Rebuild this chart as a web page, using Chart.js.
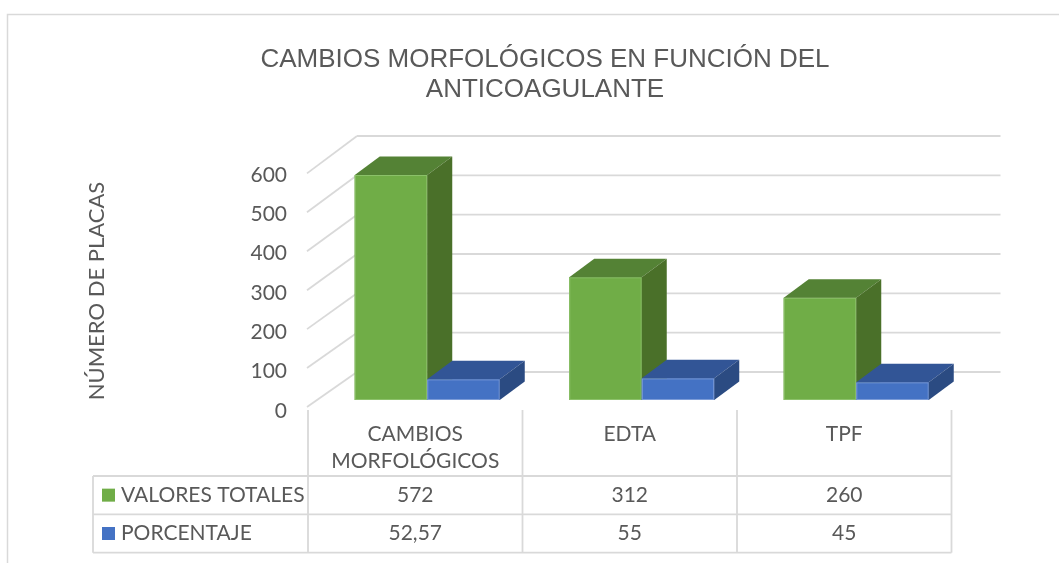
<!DOCTYPE html>
<html><head><meta charset="utf-8">
<script src="https://cdn.jsdelivr.net/npm/chart.js@4.4.0/dist/chart.umd.min.js"></script>
<style>html,body{margin:0;padding:0;background:#fff;} #wrap{position:relative;width:1059px;height:563px;}</style>
</head><body><div id="wrap"><canvas id="c"></canvas></div>
<script>
// ---- data ----
const titleLines = ['CAMBIOS MORFOLÓGICOS EN FUNCIÓN DEL', 'ANTICOAGULANTE'];
const categories = [['CAMBIOS', 'MORFOLÓGICOS'], ['EDTA'], ['TPF']];
const seriesNames = ['VALORES TOTALES', 'PORCENTAJE'];
const valoresTotales = [572, 312, 260];
const porcentaje = [52.57, 55, 45];
const yTicks = [0, 100, 200, 300, 400, 500, 600];
const yTitle = 'NÚMERO DE PLACAS';

// ---- styles ----
const TXT = '#595959', LINE = '#d9d9d9';
const FONT = 'Lato, "Open Sans", sans-serif';
const TFONT = '"Liberation Sans", Arial, sans-serif';
const DEPTH = {dx: 25, dy: 18.5};
const BACK = {dx: 37, dy: 28};
const FRONT = {dx: -12, dy: 7};
const faceColors = [
  {front: '#70AD47', top: '#548235', side: '#4A7029', edge: '#8cc16a'},
  {front: '#4472C4', top: '#325596', side: '#2B4B82', edge: '#7c9cd8'}
];

function poly(ctx, pts, fill) {
  ctx.beginPath();
  ctx.moveTo(pts[0][0], pts[0][1]);
  for (let k = 1; k < pts.length; k++) ctx.lineTo(pts[k][0], pts[k][1]);
  ctx.closePath();
  ctx.fillStyle = fill;
  ctx.fill();
}
function line(ctx, x1, y1, x2, y2) {
  ctx.beginPath(); ctx.moveTo(x1, y1); ctx.lineTo(x2, y2); ctx.stroke();
}

const excel3d = {
  id: 'excel3d',
  beforeDraw(chart) {
    const ctx = chart.ctx;
    ctx.save();
    ctx.fillStyle = '#fff';
    ctx.fillRect(0, 0, chart.width, chart.height);
    // frame
    ctx.strokeStyle = LINE; ctx.lineWidth = 1.5;
    ctx.strokeRect(7.5, 14.5, chart.width + 20, chart.height + 20);
    // title
    ctx.fillStyle = TXT;
    ctx.font = '26px ' + TFONT;
    ctx.textAlign = 'center'; ctx.textBaseline = 'alphabetic';
    ctx.fillText(titleLines[0], 545, 67);
    ctx.fillText(titleLines[1], 545, 97);
    ctx.restore();
  },
  beforeDatasetsDraw(chart) {
    const ctx = chart.ctx, ys = chart.scales.y, a = chart.chartArea;
    ctx.save();
    ctx.strokeStyle = LINE; ctx.lineWidth = 1.8;
    ys.ticks.forEach(t => {
      const yb = ys.getPixelForValue(t.value);
      const yBack = yb - BACK.dy;
      const yFront = (yb - a.bottom) * 0.99 + a.bottom + FRONT.dy;
      line(ctx, a.left + BACK.dx, yBack, a.right + BACK.dx, yBack);
      line(ctx, a.left + FRONT.dx - 1, yFront, a.left + BACK.dx, yBack);
    });
    ctx.restore();
  },
  afterDatasetsDraw(chart) {
    const ctx = chart.ctx;
    const metas = chart.data.datasets.map((d, i) => chart.getDatasetMeta(i));
    ctx.save();
    for (let i = 0; i < chart.data.labels.length; i++) {
      metas.forEach((meta, d) => {
        const el = meta.data[i];
        const p = el.getProps(['x', 'y', 'base', 'width'], true);
        const c = faceColors[d];
        const l = p.x - p.width / 2, r = p.x + p.width / 2;
        // front
        ctx.fillStyle = c.front;
        ctx.fillRect(l, p.y, p.width, p.base - p.y);
        ctx.strokeStyle = c.edge; ctx.lineWidth = 1;
        ctx.strokeRect(l + 0.5, p.y + 0.5, p.width - 1, p.base - p.y - 1);
        // top
        poly(ctx, [[l, p.y], [l + DEPTH.dx, p.y - DEPTH.dy], [r + DEPTH.dx, p.y - DEPTH.dy], [r, p.y]], c.top);
        // side
        poly(ctx, [[r, p.y], [r + DEPTH.dx, p.y - DEPTH.dy], [r + DEPTH.dx, p.base - DEPTH.dy], [r, p.base]], c.side);
      });
    }
    ctx.restore();
  },
  afterDraw(chart) {
    const ctx = chart.ctx, xs = chart.scales.x, a = chart.chartArea;
    const n = chart.data.labels.length;
    const band = (a.right - a.left) / n;
    const x0 = a.left + FRONT.dx;
    const tableLeft = 93, headTop = 410, r1 = 476, r2 = 514.3, r3 = 552.7;
    ctx.save();
    ctx.strokeStyle = LINE; ctx.lineWidth = 1.8;
    for (let k = 0; k <= n; k++) {
      const xv = x0 + k * band;
      line(ctx, xv, headTop, xv, r3);
    }
    line(ctx, tableLeft, r1, tableLeft, r3);
    [r1, r2, r3].forEach(yv => line(ctx, tableLeft, yv, x0 + n * band, yv));

    ctx.fillStyle = TXT;
    ctx.font = '21px ' + FONT;
    ctx.textAlign = 'center'; ctx.textBaseline = 'middle';
    chart.data.labels.forEach((lab, i) => {
      const cx = xs.getPixelForValue(i) + FRONT.dx;
      const lines = Array.isArray(lab) ? lab : [lab];
      lines.forEach((s, j) => ctx.fillText(s, cx, 434 + j * 27.5));
      chart.data.datasets.forEach((ds, d) => {
        const v = ds.data[i];
        ctx.fillText(String(v).replace('.', ','), cx, (d === 0 ? (r1 + r2) / 2 : (r2 + r3) / 2));
      });
    });
    // legend keys
    ctx.textAlign = 'left';
    chart.data.datasets.forEach((ds, d) => {
      const cy = d === 0 ? (r1 + r2) / 2 : (r2 + r3) / 2;
      ctx.fillStyle = faceColors[d].front;
      ctx.fillRect(102, cy - 6.5, 13, 13);
      ctx.fillStyle = TXT;
      ctx.fillText(ds.label, 121, cy);
    });
    // y title
    ctx.translate(96.5, 291);
    ctx.rotate(-Math.PI / 2);
    ctx.textAlign = 'center';
    ctx.font = '22px ' + FONT;
    ctx.fillText(yTitle, 0, 0);
    ctx.restore();
  }
};

new Chart(document.getElementById('c'), {
  type: 'bar',
  data: {
    labels: categories,
    datasets: [
      {label: seriesNames[0], data: valoresTotales, backgroundColor: faceColors[0].front, borderWidth: 0, categoryPercentage: 0.676, barPercentage: 1},
      {label: seriesNames[1], data: porcentaje, backgroundColor: faceColors[1].front, borderWidth: 0, categoryPercentage: 0.676, barPercentage: 1}
    ]
  },
  options: {
    responsive: true, maintainAspectRatio: false, animation: false, devicePixelRatio: 1,
    layout: {padding: {left: 0, right: 95.5, top: 164, bottom: 163}},
    plugins: {legend: {display: false}, title: {display: false}, tooltip: {enabled: false}},
    scales: {
      x: {display: false, offset: true},
      y: {
        min: 0, max: 600,
        afterBuildTicks: s => { s.ticks = yTicks.map(v => ({value: v})); },
        afterFit: s => { s.width = 320; },
        ticks: {padding: 33, labelOffset: 11, color: TXT, font: {family: FONT, size: 21}, autoSkip: false},
        grid: {display: false, drawTicks: false},
        border: {display: false}
      }
    }
  },
  plugins: [excel3d]
});
</script></body></html>
